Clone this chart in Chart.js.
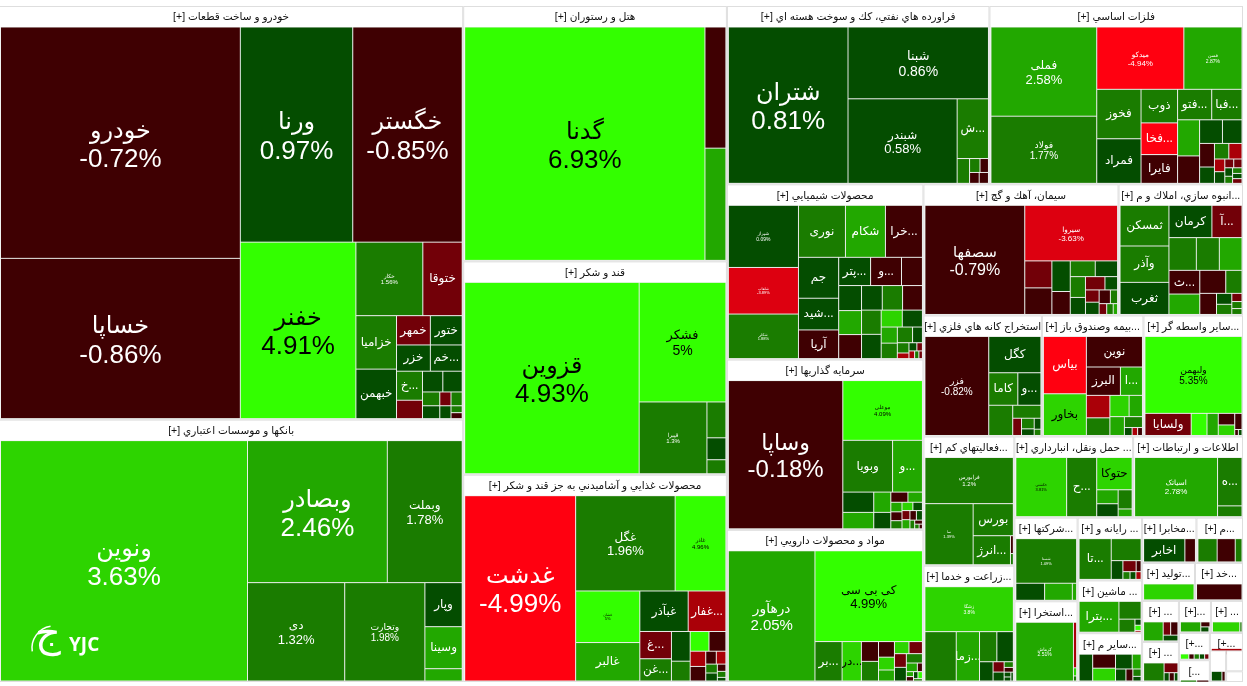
<!DOCTYPE html>
<html>
<head>
<meta charset="utf-8">
<style>
  html, body { margin: 0; padding: 0; background: #fff; }
  canvas { display: block; }
</style>
<script src="https://cdn.jsdelivr.net/npm/chart.js@4/dist/chart.umd.min.js"></script>
</head>
<body>
<canvas id="chart" width="1247" height="686"></canvas>
<script>
// sector titles and sizes (size = estimated market weight)
const sectorTitles = ['خودرو و ساخت قطعات [+]', 'بانكها و موسسات اعتباري [+]', 'هتل و رستوران [+]', 'قند و شكر [+]',
  'محصولات غذايي و آشاميدني به جز قند و شكر [+]', 'فراورده هاي نفتي، كك و سوخت هسته اي [+]', 'فلزات اساسي [+]',
  'محصولات شيميايي [+]', 'سرمايه گذاريها [+]', 'مواد و محصولات دارويي [+]', 'سيمان، آهك و گچ [+]',
  '...انبوه سازي، املاك و م [+]', 'استخراج كانه هاي فلزي [+]', '...بيمه وصندوق باز [+]', '...ساير واسطه گر [+]',
  '...فعاليتهاي كم [+]', '...زراعت و خدما [+]', '... حمل ونقل، انبارداري [+]', 'اطلاعات و ارتباطات [+]',
  '...شركتها [+]', '...استخرا [+]', '... رايانه و [+]', '... ماشين [+]', '...ساير م [+]',
  '...مخابرا [+]', '...م [+]', '...توليد [+]', '...خد [+]',
  '... [+]', '... [+]', '...[+]', '... [+]', '[+...', '[...', '[+...', '', '', ''];
const sectorValues = [191219, 121306, 67065, 56019, 54441, 46636, 45034, 34300, 33320, 29792, 25480, 16250,
  14280, 12240, 12000, 11700, 10530, 9600, 8880, 5270, 5084, 4032, 3392, 3136,
  2451, 2100, 2000, 1813, 1505, 1470, 1023, 1023, 840, 672, 576, 512, 352, 180];

const autoNames = ['خودرو', 'خساپا', 'ورنا', 'خگستر', 'خفنر', 'خکار', 'ختوقا', 'خزامیا', 'خبهمن', 'خمهر', 'ختور', 'خزر', '...خم', '...خ'];
const autoValues = [55209, 38240, 24069, 23430, 20292, 4896, 2880, 2160, 2000, 986, 928, 884, 832, 750, 475, 420, 400, 238, 221, 154, 154, 143, 77, 66];
const autoChanges = [-0.72, -0.86, 0.97, -0.85, 4.91, 1.56, -1.5, 1.5, 0.8, -1.5, 0.8, 0.8, 0.8, 1.5, -1.5, 0.8, 0.8, 1.5, 0.8, -1.5, 1.5, 0.8, 1.5, -0.5];

const bankNames = ['ونوین', 'وبصادر', 'وبملت', 'دی', 'وتجارت', 'وپار', 'وسینا'];
const bankValues = [59033, 19740, 10575, 9506, 7840, 1634, 1558, 456];
const bankChanges = [3.63, 2.46, 1.78, 1.32, 1.98, 0.8, 2.5, 2.5];

const hotelNames = ['گدنا'];
const hotelValues = [56635, 2562, 2373];
const hotelChanges = [6.93, -0.7, 2.5];

const sugarNames = ['قزوین', 'فشکر', 'قپیرا'];
const sugarValues = [33600, 10440, 4896, 684, 418, 266];
const sugarChanges = [4.93, 5, 1.3, 1.5, 0.8, 1.5];

const foodNames = ['غدشت', 'غگل', 'غاذر', 'غشان', 'غالبر', 'غبآذر', '...غفار', '...غ', '...غن'];
const foodValues = [19947, 9200, 4692, 3213, 2394, 1900, 1482, 837, 682, 540, 360, 360, 324, 230, 220, 132, 120, 100, 90, 60, 50, 30];
const foodChanges = [-4.99, 1.96, 4.96, 5, 2.5, 0.8, -3, -1.5, 1.5, 0.8, 1.5, 5, -0.5, -3, -0.5, -0.5, -3, 1.5, 0.8, -0.5, 1.5, 0.8];

const oilNames = ['شتران', 'شبنا', 'شبندر', '...ش'];
const oilValues = [18564, 10011, 9156, 1856, 306, 144, 117, 104, 100];
const oilChanges = [0.81, 0.86, 0.58, 1.5, 1.5, 1.5, -0.5, -0.5, -0.5];

const metalNames = ['فملی', 'فولاد', 'میدکو', 'فسن', 'فخوز', 'فمراد', 'ذوب', '...فخا', 'فایرا', '...فتو', '...فبا'];
const metalValues = [9612, 7236, 5530, 3690, 2230, 2010, 1250, 1180, 1070, 1060, 940, 810, 615, 550, 470, 357, 247, 228, 209, 134, 123, 80, 74, 67, 56, 54, 50, 45];
const metalChanges = [2.58, 1.77, -4.94, 2.87, 1.5, 0.8, 1.5, -5, -0.5, 1.5, 1.5, 2.5, -0.5, 0.8, 0.8, -0.5, 0.8, 1.5, -3, -3, 0.8, -1.5, -1.5, 0.8, 1.5, 1.5, 0.8, -1.5];

const chemNames = ['شیراز', 'شلعاب', 'شکلر', 'نوری', 'شکام', '...خرا', 'جم', '...شید', 'آریا', '...پتر', '...و'];
const chemValues = [4020, 3015, 2881, 2256, 1920, 1776, 1520, 1178, 1064, 832, 806, 546, 528, 506, 506, 470, 460, 450, 440, 440, 330, 315, 240, 230, 221, 143, 110, 60, 60, 42, 40, 30, 25];
const chemChanges = [0.09, -3.89, 1.88, 1.5, 2.5, -0.5, 0.8, 0.8, -0.5, 0.8, -0.5, -0.5, 0.8, 2.5, -0.5, 0.8, 1.5, -0.5, 1.5, 0.8, 3.63, 0.8, 2.5, 1.5, 1.5, 0.8, 1.5, -3, 0.8, -1.5, -3, 1.5, -1.5];

const investNames = ['وساپا', 'موعلی', 'وبویا', '...و'];
const investValues = [16464, 4617, 2500, 1500, 609, 493, 336, 272, 169, 143, 104, 96, 88, 88, 77, 70, 70, 60, 56, 40, 30, 20, 15];
const investChanges = [-0.18, 4.09, 1.5, 2.5, 0.8, 2.5, 2.5, 0.8, -0.5, 2.5, 2.5, -0.5, 1.5, 3.63, 0.8, -1.5, 2.5, -0.5, 0.8, 1.5, -0.5, 1.5, -0.5];

const pharmaNames = ['درهآور', 'کی بی سی', '...بر', '...در'];
const pharmaValues = [10800, 9350, 1025, 729, 324, 322, 238, 196, 168, 168, 156, 156, 156, 144, 91, 42, 34, 30, 30, 30, 20];
const pharmaChanges = [2.05, 4.99, 1.5, 3.63, -0.5, 1.5, -0.5, 3.63, 2.5, 3.63, -1.5, -1.5, 0.8, 1.5, 2.5, -0.5, 2.5, -0.5, 0.8, 5, 1.5];

const cementNames = ['سصفها', 'سیروا'];
const cementValues = [9300, 4400, 625, 615, 480, 360, 336, 300, 270, 221, 221, 143, 143, 143, 132, 84, 70, 60, 40];
const cementChanges = [-0.79, -3.63, -1.5, -0.5, 0.8, -0.5, 1.5, 0.8, 1.5, 0.8, -1.5, 0.8, -1.5, 0.8, -0.5, 1.5, -1.5, 1.5, 2.5];

const buildNames = ['ثمسکن', 'وآذر', 'ثغرب', 'کرمان', '...آ', '', '', '', '...ث'];
const buildValues = [1862, 1666, 1470, 1300, 910, 840, 705, 695, 685, 590, 560, 350, 330, 157, 146, 78, 67, 56];
const buildChanges = [1.5, 1.5, 0.8, 0.8, -1.5, 1.5, 1.5, 2.5, -0.5, 2.5, -0.5, 1.5, -0.5, 0.8, 1.5, -1.5, 1.5, 1.5];

const mineNames = ['فزر', 'کگل', 'کاما', '...و'];
const mineValues = [6014, 1802, 899, 713, 690, 348, 144, 128, 80, 70, 40];
const mineChanges = [-0.82, 0.8, 1.5, 0.8, 1.5, 1.5, -1.5, 1.5, 0.8, 0.8, 1.5];

const insureNames = ['بیاس', 'بخاور', 'نوین', 'البرز', '...ا'];
const insureValues = [2255, 1640, 1568, 884, 572, 484, 380, 374, 260, 250, 180, 56, 40, 35];
const insureChanges = [-5, 3.63, -0.5, -0.5, 2.5, -3, 1.5, 3.63, 2.5, 2.5, 1.5, 0.8, -3, -0.5];

const brokerNames = ['ولبهمن', 'ولسایا'];
const brokerValues = [6882, 943, 322, 230, 176, 160, 108, 20, 20];
const brokerChanges = [5.35, -1.5, 6, 2.5, -0.5, 3.63, -0.5, -0.5, 0.8];

const activityNames = ['فرابورس', 'نما', 'بورس', '...انرژ'];
const activityValues = [3828, 2760, 1209, 1015, 48, 30];
const activityChanges = [1.2, 1.39, 1.5, 1.5, -0.5, 1.5];

const farmNames = ['زشگا', '', '...زما'];
const farmValues = [3654, 1421, 1056, 480, 456, 240, 105, 91, 48, 40, 30, 25, 20];
const farmChanges = [3.8, 1.5, 2.5, 1.5, 0.8, 0.8, -1.5, 0.8, 1.5, -0.5, 0.8, 0.8, 0.8];

const transportNames = ['حکشتی', '...ح', 'حتوکا'];
const transportValues = [2744, 1624, 1044, 273, 252, 245, 98];
const transportChanges = [3.81, 1.5, 3.63, 2.5, 0.8, 1.5, 2.5];

const telecomNames = ['اسیاتک', '...ه'];
const telecomValues = [4480, 1080, 240];
const telecomChanges = [2.78, 1.5, 1.5];

const holdingNames = ['شستا'];
const holdingValues = [2537, 459, 442, 68];
const holdingChanges = [1.09, 0.8, 2.5, 2.5];

const quarryNames = ['کرماش'];
const quarryValues = [3190, 135, 24, 15];
const quarryChanges = [2.51, -3, 3.63, 1.5];

const computerNames = ['...تا'];
const computerValues = [1148, 576, 192, 128, 48, 48, 40, 35];
const computerChanges = [1.5, 1.5, 0.8, -1.5, -0.5, 1.5, 0.8, -3];

const machineNames = ['...بترا'];
const machineValues = [1147, 368, 195, 35, 30, 10];
const machineChanges = [2.5, 1.5, 1.5, 0.8, 5, -3];

const otherNames = [];
const otherValues = [288, 252, 231, 195, 104, 99, 66, 48, 30];
const otherChanges = [0.8, -0.5, 3.63, 0.8, 2.5, 0.8, -0.5, 1.5, 0.8];

const postNames = ['اخابر'];
const postValues = [903, 231];
const postChanges = [0.8, -0.5];

const miscValues = [357, 336, 126];
const miscChanges = [1.5, -0.5, 1.5];
const makeValues = [612];
const makeChanges = [3.63];
const retailValues = [528];
const retailChanges = [-0.5];
const smallAValues = [368, 98, 95, 84];
const smallAChanges = [2.5, -1.5, -0.5, 0.8];
const smallBValues = [306, 112, 35, 35, 25];
const smallBChanges = [1.5, -1.5, 0.8, -0.5, 0.8];
const smallCValues = [200, 45, 40, 5];
const smallCChanges = [2.5, -0.5, 0.8, 1.5];
const smallDValues = [250, 20];
const smallDChanges = [3.63, 1.5];
const smallEValues = [48, 30, 30, 30, 24];
const smallEChanges = [5, -0.5, 1.5, 0.8, -1.5];
const smallFValues = [20, 15];
const smallFChanges = [1.5, -0.5];
const smallGValues = [170];
const smallGChanges = [-3];
const smallHValues = [100, 30];
const smallHChanges = [0.8, -0.5];

// cells per sector, same order as sectorTitles
const sectorCells = [
  [autoNames, autoValues, autoChanges], [bankNames, bankValues, bankChanges], [hotelNames, hotelValues, hotelChanges],
  [sugarNames, sugarValues, sugarChanges], [foodNames, foodValues, foodChanges], [oilNames, oilValues, oilChanges],
  [metalNames, metalValues, metalChanges], [chemNames, chemValues, chemChanges], [investNames, investValues, investChanges],
  [pharmaNames, pharmaValues, pharmaChanges], [cementNames, cementValues, cementChanges], [buildNames, buildValues, buildChanges],
  [mineNames, mineValues, mineChanges], [insureNames, insureValues, insureChanges], [brokerNames, brokerValues, brokerChanges],
  [activityNames, activityValues, activityChanges], [farmNames, farmValues, farmChanges], [transportNames, transportValues, transportChanges],
  [telecomNames, telecomValues, telecomChanges], [holdingNames, holdingValues, holdingChanges], [quarryNames, quarryValues, quarryChanges],
  [computerNames, computerValues, computerChanges], [machineNames, machineValues, machineChanges], [otherNames, otherValues, otherChanges],
  [postNames, postValues, postChanges], [[], miscValues, miscChanges], [[], makeValues, makeChanges], [[], retailValues, retailChanges],
  [[], smallAValues, smallAChanges], [[], smallBValues, smallBChanges], [[], smallCValues, smallCChanges], [[], smallDValues, smallDChanges],
  [[], smallEValues, smallEChanges], [[], smallFValues, smallFChanges], [[], smallGValues, smallGChanges], [[], smallHValues, smallHChanges],
  [[], [], []], [[], [], []]
];

// label styling: names listed here also print their change, at this size
const pctFont = { 'خودرو': 26, 'خساپا': 26, 'ورنا': 26, 'خگستر': 26, 'خفنر': 26, 'خکار': 6, 'ونوین': 26, 'وبصادر': 26, 'وبملت': 13, 'دی': 13, 'وتجارت': 10,
  'گدنا': 26, 'قزوین': 26, 'فشکر': 14, 'قپیرا': 6, 'غدشت': 26, 'غگل': 13, 'غاذر': 6, 'غشان': 4, 'شتران': 26, 'شبنا': 14, 'شبندر': 13,
  'فملی': 13, 'فولاد': 10, 'میدکو': 8, 'فسن': 5, 'شیراز': 5, 'شلعاب': 4, 'شکلر': 4, 'سصفها': 16, 'سیروا': 8, 'فزر': 10, 'ولبهمن': 10, 'وساپا': 24,
  'موعلی': 6, 'کی بی سی': 13, 'درهآور': 15, 'فرابورس': 6, 'نما': 4, 'اسیاتک': 8, 'حکشتی': 4, 'شستا': 4, 'زشگا': 5, 'کرماش': 5 };
const whiteLabels = ['ونوین', 'زشگا'];
const NAME_FONT = 12;
const FONT = '"Liberation Sans", "DejaVu Sans", sans-serif';
const GAP = '#dedede';
const W = 1247, H = 686;

function bandColor(c){
  if (c >= 4) return '#33ff00';
  if (c >= 3) return '#2dd400';
  if (c >= 2) return '#22a800';
  if (c >= 1) return '#1a7c00';
  if (c >= 0) return '#044d00';
  if (c >= -1) return '#3f0002';
  if (c >= -2) return '#720008';
  if (c >= -3.1) return '#aa0008';
  if (c >= -4) return '#dd0010';
  return '#ff0010';
}

// squarified treemap (Bruls et al.), biggest items first
function squarify(items, rect){
  const out = [];
  let { x0, y0, x1, y1 } = rect;
  const total = items.reduce((s, it) => s + it.value, 0);
  if (!total) return out;
  const k = (x1 - x0) * (y1 - y0) / total;
  const rest = items.slice().sort((a, b) => b.value - a.value);
  const worst = (row, side) => {
    const s = row.reduce((a, it) => a + it.value * k, 0);
    const big = row[0].value * k, small = row[row.length - 1].value * k;
    return Math.max(side * side * big / (s * s), s * s / (side * side * small));
  };
  while (rest.length){
    const w = x1 - x0, h = y1 - y0, side = Math.min(w, h);
    const row = [rest.shift()];
    while (rest.length && worst(row.concat(rest[0]), side) <= worst(row, side)) row.push(rest.shift());
    const sum = row.reduce((a, it) => a + it.value * k, 0);
    const thick = sum / side;
    let pos = w >= h ? y0 : x0;
    row.forEach(it => {
      const len = it.value * k / thick;
      if (w >= h) out.push({ ...it, x0, x1: x0 + thick, y0: pos, y1: pos + len });
      else out.push({ ...it, x0: pos, x1: pos + len, y0, y1: y0 + thick });
      pos += len;
    });
    if (w >= h) x0 += thick; else y0 += thick;
  }
  return out;
}

function buildMarks(){
  const marks = [];
  const sectors = squarify(sectorValues.map((value, i) => ({ value, i })), { x0: -1, y0: 6, x1: 1243, y1: 682 });
  sectors.forEach(s => {
    marks.push({ kind: 'sector', title: sectorTitles[s.i], x0: s.x0, y0: s.y0, x1: s.x1, y1: s.y1 });
    const [names, values, changes] = sectorCells[s.i];
    const items = values.map((value, j) => ({ value, name: names[j] || '', change: changes[j] }));
    squarify(items, { x0: s.x0 + 1.5, y0: s.y0 + 21, x1: s.x1 - 1, y1: s.y1 - 1 })
      .forEach(c => marks.push({ kind: 'cell', ...c }));
  });
  return marks;
}

class TreeCell extends Chart.Element {
  static id = 'treeCell';
  draw(ctx){
    const it = this.item, x = this.x, y = this.y, w = this.width, h = this.height;
    ctx.save();
    if (it.kind === 'sector'){
      ctx.fillStyle = GAP;
      ctx.fillRect(x, y, w, h);
      ctx.fillStyle = '#fff';
      ctx.fillRect(x + 1, y + 1, w - 2, h - 2);
      ctx.beginPath(); ctx.rect(x + 1, y + 1, w - 2, h - 2); ctx.clip();
      ctx.fillStyle = '#111';
      ctx.font = '10.5px ' + FONT;
      ctx.textAlign = 'center';
      ctx.textBaseline = 'middle';
      ctx.direction = it.title.startsWith('[') ? 'ltr' : 'rtl';
      ctx.fillText(it.title, x + w / 2, y + 11.5);
    } else {
      ctx.fillStyle = '#e4e8e4';
      ctx.fillRect(x, y, w, h);
      ctx.fillStyle = bandColor(it.change);
      ctx.fillRect(x + 0.5, y + 0.5, w - 1, h - 1);
      if (it.name){
        ctx.beginPath(); ctx.rect(x, y, w, h); ctx.clip();
        const size = pctFont[it.name] || NAME_FONT;
        const dark = it.change >= 3 && !whiteLabels.includes(it.name);
        ctx.fillStyle = dark ? '#000' : '#fff';
        ctx.textAlign = 'center';
        ctx.textBaseline = 'middle';
        const cx = x + w / 2, cy = y + h / 2;
        if (pctFont[it.name]){
          const mid = cy + size * 0.1;
          ctx.font = size * 0.92 + 'px ' + FONT;
          ctx.direction = 'rtl';
          ctx.fillText(it.name, cx, mid - size * 0.55);
          ctx.font = size + 'px ' + FONT;
          ctx.direction = 'ltr';
          ctx.fillText(it.change + '%', cx, mid + size * 0.55);
        } else {
          ctx.font = size + 'px ' + FONT;
          ctx.direction = 'rtl';
          ctx.fillText(it.name, cx, cy);
        }
      }
    }
    ctx.restore();
  }
}

class TreeController extends Chart.DatasetController {
  static id = 'tree';
  static defaults = { dataElementType: 'treeCell' };
  update(mode){
    const meta = this.getMeta();
    this.updateElements(meta.data, 0, meta.data.length, mode);
  }
  updateElements(els, start, count){
    const { xScale, yScale } = this.getMeta();
    const data = this.getDataset().data;
    for (let i = start; i < start + count; i++){
      const it = data[i];
      const left = xScale.getPixelForValue(it.x0), right = xScale.getPixelForValue(it.x1);
      const top = yScale.getPixelForValue(it.y0), bottom = yScale.getPixelForValue(it.y1);
      Object.assign(els[i], { x: left, y: top, width: right - left, height: bottom - top, item: it });
    }
  }
}
Chart.register(TreeCell, TreeController);

const logoPlugin = {
  id: 'logo',
  afterDatasetsDraw(chart){
    const ctx = chart.ctx;
    ctx.save();
    ctx.fillStyle = '#fff';
    ctx.strokeStyle = '#fff';
    ctx.textBaseline = 'middle';
    ctx.font = 'bold 19px "Open Sans", sans-serif';
    ctx.fillText('YJC', 69, 646);
    ctx.font = '40px "DejaVu Sans", sans-serif';
    ctx.textAlign = 'center';
    ctx.fillText('ج', 48, 636);
    ctx.lineWidth = 1.5;
    ctx.beginPath();
    ctx.arc(54, 648, 22, Math.PI * 0.95, Math.PI * 1.45);
    ctx.stroke();
    ctx.restore();
  }
};

new Chart(document.getElementById('chart'), {
  type: 'tree',
  data: { datasets: [{ data: buildMarks() }] },
  plugins: [logoPlugin],
  options: {
    parsing: false, animation: false, responsive: false, devicePixelRatio: 1, events: [],
    layout: { padding: 0 },
    scales: {
      x: { type: 'linear', display: false, min: 0, max: W },
      y: { type: 'linear', display: false, min: 0, max: H, reverse: true }
    },
    plugins: { legend: { display: false }, tooltip: { enabled: false } }
  }
});
</script>
</body>
</html>
